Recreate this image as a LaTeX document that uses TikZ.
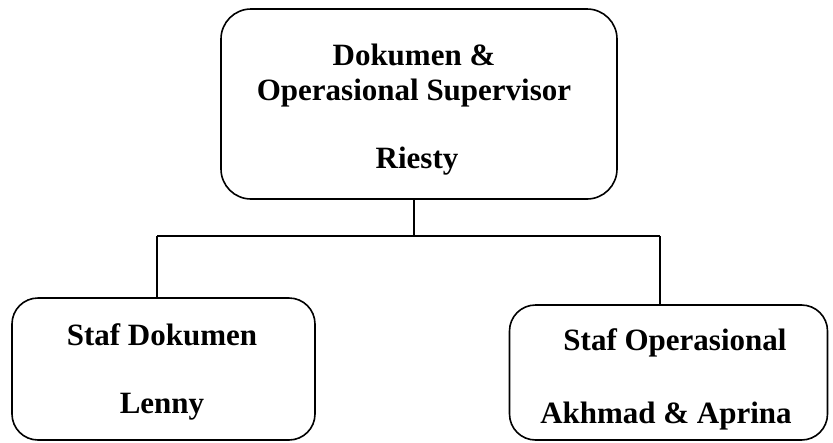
\documentclass[tikz,border=0pt]{standalone}
\usepackage{fontspec}
\setmainfont{Liberation Serif}
\begin{document}
\begin{tikzpicture}[x=1pt,y=-1pt,
  box/.style={draw,line width=1.6pt,rounded corners=30pt,minimum width=#1,inner sep=0pt},
  lbl/.style={anchor=base,font=\fontsize{31}{36}\selectfont\bfseries,inner sep=0pt},
  conn/.style={line width=1.6pt}]
\useasboundingbox (0,0) rectangle (833,442);
\node[box=396pt,minimum height=190pt] (top) at (419,104) {};
\node[box=303pt,minimum height=142pt,rounded corners=26pt] (left) at (163.5,369) {};
\node[box=318pt,minimum height=135pt,rounded corners=26pt] (right) at (668.5,372.5) {};
\node[lbl] (t1) at (414,65) {Dokumen \&};
\node[lbl] (t2) at (414,100) {Operasional Supervisor};
\node[lbl] (t3) at (417,168) {Riesty};
\node[lbl] (l1) at (162,345) {Staf Dokumen};
\node[lbl] (l2) at (162,413) {Lenny};
\node[lbl] (r1) at (675,350) {Staf Operasional};
\node[lbl] (r2) at (666,423) {Akhmad \& Aprina};
\coordinate (j) at (414,236);
\coordinate (jl) at (157,236);
\coordinate (jr) at (660,236);
\draw[conn] (top.south -| j) -- (j);
\draw[conn] (jl) -- (jr);
\draw[conn] (jl) -- (jl |- left.north);
\draw[conn] (jr) -- (jr |- right.north);
\end{tikzpicture}
\end{document}
